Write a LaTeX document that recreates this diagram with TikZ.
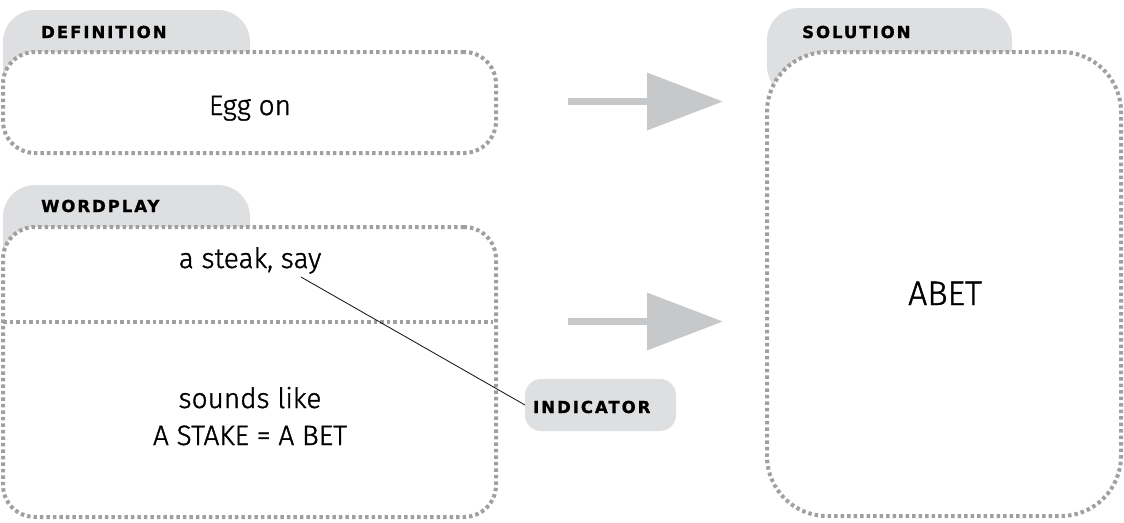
\documentclass[tikz,border=0pt]{standalone}
\usepackage{fontspec}
\setmainfont{Fira Sans Light}[FakeBold=1.3]
\newfontfamily\labfont{DejaVu Sans}[LetterSpace=12, BoldFeatures={FakeBold=1.2}]
\usetikzlibrary{arrows.meta}
\definecolor{tabgray}{HTML}{DDDFE1}
\definecolor{dotgray}{HTML}{A0A0A0}
\definecolor{arrowgray}{HTML}{C6C8CA}
\begin{document}
\begin{tikzpicture}[x=1pt,y=-1pt,
  tabbox/.style={fill=tabgray, rounded corners=32pt, inner sep=0pt, outer sep=0pt},
  dotline/.style={draw=dotgray, line width=4pt, dash pattern=on 3.5pt off 3pt},
  dotbox/.style={dotline, fill=white, inner sep=0pt, outer sep=0pt},
  labtext/.style={font=\labfont\bfseries\fontsize{16.5}{19}\selectfont, inner sep=0pt, anchor=base west},
  maintext/.style={font=\fontsize{28}{37}\selectfont, inner sep=0pt, anchor=base, align=center},
  bigarrow/.style={draw=arrowgray, line width=7pt, -{Triangle[length=76pt,width=56pt]}},
  indbox/.style={fill=tabgray, rounded corners=16pt, inner sep=0pt, outer sep=0pt}
]
\useasboundingbox (0,0) rectangle (1124,522);

% tabs
\node[tabbox, minimum width=247pt, minimum height=90pt] (deftab) at (126.5,55) {};
\node[tabbox, minimum width=247pt, minimum height=90pt] (wptab) at (126.5,230) {};
\node[tabbox, minimum width=245pt, minimum height=90pt] (soltab) at (889.5,53) {};

% boxes
\node[dotbox, rounded corners=32pt, minimum width=493pt, minimum height=101pt] (defbox) at (249.5,102.5) {};
\node[dotbox, rounded corners=32pt, minimum width=493pt, minimum height=290pt] (wpbox) at (249.5,372) {};
\node[dotbox, rounded corners=60pt, minimum width=354pt, minimum height=464pt] (solbox) at (944,284) {};

% divider
\coordinate (divL) at (3,322);
\coordinate (divR) at (493,322);
\draw[dotline] (divL) -- (divR);

% labels
\node[labtext] (deflab) at (41,38) {DEFINITION};
\node[labtext] (wplab) at (41,212) {WORDPLAY};
\node[labtext] (sollab) at (802,38) {SOLUTION};

% texts
\node[maintext] (egg) at (250,115) {Egg on};
\node[maintext] (steak) at (250,268) {a steak, say};
\node[maintext] (sounds) at (250,445) {sounds like\\A STAKE = A BET};
\node[maintext, font=\fontsize{34}{40}\selectfont] (abet) at (945,305) {ABET};

% indicator
\node[indbox, minimum width=151pt, minimum height=52pt] (ind) at (600.5,405) {};
\node[labtext] (indlab) at (533,413) {INDICATOR};
\coordinate (lstart) at (301,277);
\draw[black, line width=0.8pt] (lstart) -- (ind.west);

% arrows
\coordinate (a1s) at (568,101.5);
\coordinate (a1e) at (723,101.5);
\coordinate (a2s) at (568,321.5);
\coordinate (a2e) at (723,321.5);
\draw[bigarrow] (a1s) -- (a1e);
\draw[bigarrow] (a2s) -- (a2e);
\end{tikzpicture}
\end{document}
